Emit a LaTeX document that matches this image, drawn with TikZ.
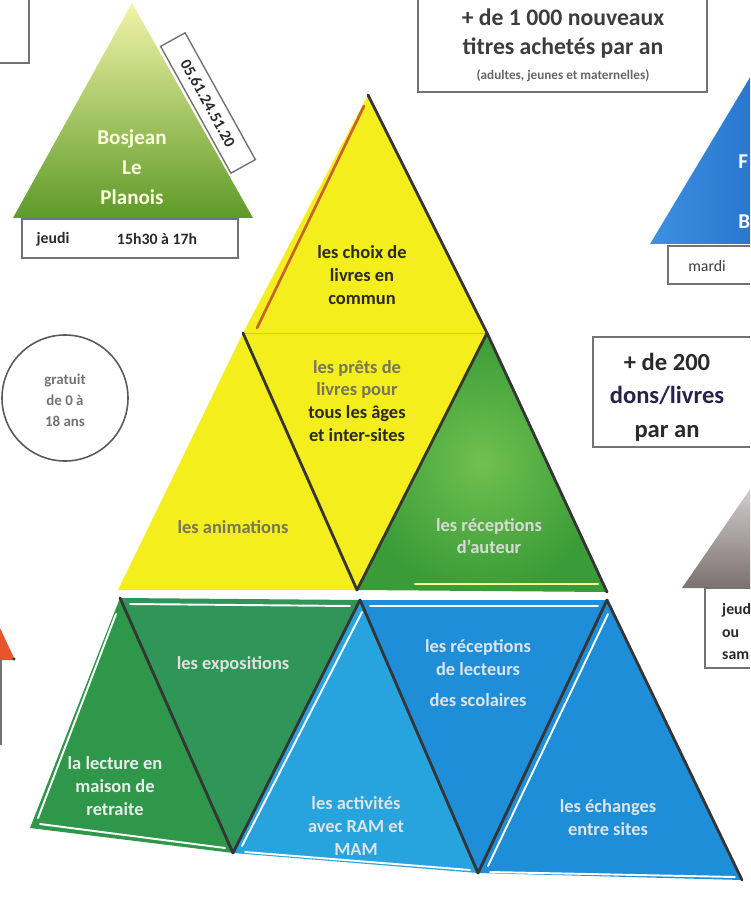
\documentclass[tikz,border=0pt]{standalone}
\usepackage{fontspec}
\setmainfont{Carlito}
\usetikzlibrary{positioning}
\definecolor{pyryellow}{HTML}{F4EE1C}
\definecolor{pyrgreen}{HTML}{3A9C38}
\definecolor{pyrgreenlt}{HTML}{70C04E}
\definecolor{lowgreena}{HTML}{2E974A}
\definecolor{lowgreenb}{HTML}{2F9658}
\definecolor{lowbluea}{HTML}{27A3DD}
\definecolor{lowblueb}{HTML}{1D8ED7}
\definecolor{edgedark}{HTML}{353535}
\definecolor{edgeorange}{HTML}{C8622C}
\definecolor{inkdark}{HTML}{2A2A2A}
\definecolor{inkgray}{HTML}{3C3C3C}
\definecolor{olivegray}{HTML}{76765A}
\definecolor{paletext}{HTML}{DCE4E6}
\definecolor{bosyellow}{HTML}{F2F4A8}
\definecolor{bosmid}{HTML}{DCE634}
\definecolor{bosgreen}{HTML}{5E9A28}
\definecolor{sitebluea}{HTML}{3D90E2}
\definecolor{siteblueb}{HTML}{0E55B6}
\definecolor{sitegraya}{HTML}{F4F0F0}
\definecolor{sitegrayb}{HTML}{D6B8BE}
\definecolor{sitegrayc}{HTML}{7C7070}
\definecolor{redsite}{HTML}{E8552C}
\definecolor{navyink}{HTML}{24244A}
\begin{document}
\begin{tikzpicture}[x=0.02cm,y=-0.02cm,
    edgeline/.style={draw=edgedark,line width=1.6pt,line cap=round,line join=round},
    glint/.style={draw=white,line width=1.1pt,line cap=round},
    infobox/.style={draw=black!55,line width=0.8pt,fill=white},
    lbl/.style={align=center,font=\bfseries\fontsize{10.5}{13}\selectfont},
    boxtext/.style={font=\bfseries\fontsize{9}{13}\selectfont,text=inkdark}]
  \useasboundingbox (0,0) rectangle (750,898);
  \clip (0,0) rectangle (750,898);

  % boxes and sites cut by the page edge
  \draw[infobox] (-10,-10) rectangle (29,63);
  \fill[redsite] (0,628) -- (15,660) -- (0,660) -- cycle;
  \fill[edgedark] (14,659) circle (1.6);
  \draw[black!55,line width=0.8pt] (1,660) -- (1,745);

  % Bosjean site
  \shade[top color=bosyellow,middle color=bosmid,bottom color=bosgreen]
    (132,3) -- (13,218) -- (253,218) -- cycle;
  \node[font=\bfseries\fontsize{12}{17}\selectfont,text=white!88!yellow,align=center]
    (bosjean) at (132,167) {Bosjean\\Le\\Planois};
  \node[infobox,rotate=-61,minimum width=2.9cm,minimum height=0.56cm,inner sep=0pt,
    font=\bfseries\fontsize{9}{11}\selectfont,text=inkdark] (tel) at (208,103) {05.61.24.51.20};
  \draw[infobox] (22,219) rectangle (238,258);
  \node[boxtext] (jour) at (53,239) {jeudi};
  \node[boxtext] (heure) at (157,239) {15h30 à 17h};

  % blue site, right
  \shade[left color=sitebluea,right color=siteblueb] (770,44) -- (650,244) -- (890,244) -- cycle;
  \node[font=\bfseries\fontsize{12}{17}\selectfont,text=white,anchor=west,inner sep=0pt] (fsite) at (738,162) {F};
  \node[font=\bfseries\fontsize{12}{17}\selectfont,text=white,anchor=west,inner sep=0pt] (bsite) at (738,222) {B};
  \draw[infobox] (668,246) rectangle (760,284);
  \node[boxtext,font=\fontsize{9}{13}\selectfont,text=inkgray] (mardi) at (707,266) {mardi};

  % gray site, right
  \shade[top color=sitegraya,middle color=sitegrayb,bottom color=sitegrayc]
    (777,450) -- (682,588) -- (872,588) -- cycle;
  \draw[infobox] (705,588) rectangle (760,668);
  \node[boxtext,anchor=north west,align=left] (jeudisam) at (716,597) {jeud\\ou\\sam};

  % figures
  \draw[infobox] (418,-10) rectangle (707,92);
  \node[font=\bfseries\fontsize{13.5}{16.5}\selectfont,text=inkgray,align=center]
    (achats) at (563,34) {+ de 1 000 nouveaux\\titres achetés par an};
  \node[font=\bfseries\fontsize{7.5}{9}\selectfont,text=black!60,below=-1pt of achats] (publics)
    {(adultes, jeunes et maternelles)};
  \draw[infobox] (593,337) rectangle (760,447);
  \node[font=\bfseries\fontsize{14}{19}\selectfont,text=inkdark,align=center]
    (dons) at (667,397) {+ de 200\\\textcolor{navyink}{dons/livres}\\par an};
  \draw[black!65,line width=0.9pt] (65,398) circle (63);
  \node[font=\bfseries\fontsize{8.5}{12}\selectfont,text=black!55,align=center]
    (gratuit) at (65,400) {gratuit\\de 0 à\\18 ans};

  % pyramid
  \coordinate (A) at (368,95);
  \coordinate (L1) at (243,333);
  \coordinate (R1) at (487,333);
  \coordinate (P) at (118,590);
  \coordinate (Q) at (357,590);
  \coordinate (S) at (607,592);
  \coordinate (P3) at (120,598);
  \coordinate (Q3) at (360,600);
  \coordinate (S3) at (607,600);
  \coordinate (B0) at (30,828);
  \coordinate (B1) at (233,853);
  \coordinate (B2) at (478,873);
  \coordinate (B3) at (742,880);

  \fill[pyryellow] (A) -- (L1) -- (R1) -- cycle;
  \fill[pyryellow] (L1) -- (P) -- (Q) -- cycle;
  \fill[pyryellow] (L1) -- (R1) -- (Q) -- cycle;
  \shade[inner color=pyrgreenlt,outer color=pyrgreen] (R1) -- (Q) -- (S) -- cycle;
  \fill[lowgreena] (P3) -- (B0) -- (B1) -- cycle;
  \fill[lowgreenb] (P3) -- (Q3) -- (B1) -- cycle;
  \fill[lowbluea] (Q3) -- (B1) -- (B2) -- cycle;
  \fill[lowblueb] (Q3) -- (S3) -- (B2) -- cycle;
  \fill[lowblueb] (S3) -- (B2) -- (B3) -- cycle;

  \draw[yellow!80!black,line width=0.4pt] (L1) -- (R1);
  \draw[edgeorange,line width=1.5pt,line cap=round] (364,106) -- (257,328);
  \draw[edgeline] (A) -- (R1) -- (S);
  \draw[edgeline] (L1) -- (Q) -- (R1);
  \draw[edgeline] (P3) -- (B1) -- (Q3) -- (B2) -- (S3) -- (B3);
  \draw[glint] (116,614) -- (38,818);
  \draw[glint] (40,824) -- (225,848);
  \draw[glint] (245,852) -- (470,870);
  \draw[glint] (490,872) -- (735,877);
  \draw[glint] (130,604) -- (350,606);
  \draw[glint] (370,606) -- (598,606);
  \draw[glint] (242,846) -- (362,612);
  \draw[glint] (488,866) -- (608,614);
  \draw[yellow!45!white,line width=1.2pt,line cap=round] (415,584) -- (598,584);

  \node[lbl,text=inkdark] (choix) at (362,275) {les choix de\\livres en\\commun};
  \node[lbl,text=inkdark] (prets) at (357,401)
    {\textcolor{olivegray}{les prêts de}\\\textcolor{olivegray}{livres pour}\\tous les âges\\et inter-sites};
  \node[lbl,text=olivegray] (animations) at (233,527) {les animations};
  \node[lbl,text=black!15] (auteur) at (489,536) {les réceptions\\d'auteur};
  \node[lbl,text=black!12] (expositions) at (233,664) {les expositions};
  \node[lbl,text=black!8] (retraite) at (115,786) {la lecture en\\maison de\\retraite};
  \node[lbl,text=paletext] (ram) at (356,826) {les activités\\avec RAM et\\MAM};
  \node[lbl,text=paletext] (scolaires) at (478,673) {les réceptions\\de lecteurs\\[5pt]des scolaires};
  \node[lbl,text=paletext] (echanges) at (608,818) {les échanges\\entre sites};
\end{tikzpicture}
\end{document}
